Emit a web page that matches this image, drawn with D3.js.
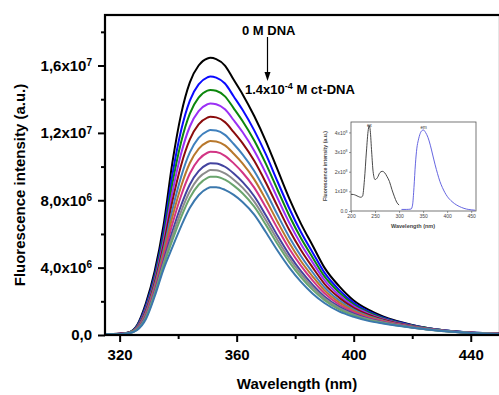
<!DOCTYPE html>
<html>
<head>
<meta charset="utf-8">
<script src="https://cdn.jsdelivr.net/npm/d3@7"></script>
<style>
  body { margin: 0; background: #fff; }
  svg { display: block; font-family: Arial, "Liberation Sans", sans-serif; }
</style>
</head>
<body>
<div id="chart"></div>
<script>
// wavelength grid (nm), shared by all spectra
const wavelength = [315, 320, 323, 326, 329, 332, 335, 338, 341, 344, 347, 350, 351, 353, 356, 359,
  362, 366, 370, 374, 378, 382, 386, 390, 395, 400, 405, 410, 420, 430, 440, 450];

// fluorescence intensity (x10^6 a.u.), from 0 M DNA (top) to 1.4x10^-4 M ct-DNA (bottom)
const spectra = [
  [0.05, 0.08, 0.15, 0.6, 1.9, 3.8, 6.5, 10.2, 13.1, 15.0, 16.0, 16.42, 16.46, 16.38, 16.0, 15.15, 14.3, 13.0, 11.5, 9.8, 8.1, 6.6, 5.3, 4.0, 2.9, 2.05, 1.5, 1.1, 0.6, 0.3, 0.15, 0.08],
  [0.05, 0.08, 0.14, 0.56, 1.76, 3.58, 6.12, 9.48, 12.14, 13.92, 14.88, 15.3, 15.35, 15.28, 14.93, 14.16, 13.37, 12.15, 10.72, 9.1, 7.51, 6.1, 4.89, 3.7, 2.68, 1.91, 1.4, 1.04, 0.58, 0.29, 0.15, 0.08],
  [0.05, 0.07, 0.14, 0.53, 1.66, 3.43, 5.86, 8.96, 11.45, 13.15, 14.09, 14.51, 14.55, 14.5, 14.17, 13.46, 12.71, 11.55, 10.16, 8.61, 7.08, 5.74, 4.59, 3.48, 2.53, 1.81, 1.34, 1.0, 0.56, 0.29, 0.14, 0.08],
  [0.05, 0.07, 0.13, 0.49, 1.57, 3.27, 5.59, 8.44, 10.76, 12.38, 13.29, 13.7, 13.75, 13.7, 13.4, 12.75, 12.05, 10.94, 9.6, 8.11, 6.66, 5.39, 4.3, 3.26, 2.37, 1.71, 1.27, 0.95, 0.54, 0.28, 0.14, 0.07],
  [0.05, 0.07, 0.13, 0.46, 1.47, 3.12, 5.32, 7.93, 10.07, 11.61, 12.5, 12.91, 12.96, 12.92, 12.64, 12.04, 11.39, 10.34, 9.04, 7.62, 6.23, 5.03, 4.0, 3.04, 2.22, 1.61, 1.2, 0.91, 0.52, 0.27, 0.14, 0.07],
  [0.05, 0.06, 0.12, 0.43, 1.37, 2.96, 5.05, 7.41, 9.39, 10.84, 11.7, 12.11, 12.17, 12.14, 11.88, 11.34, 10.73, 9.74, 8.49, 7.12, 5.81, 4.68, 3.71, 2.83, 2.06, 1.51, 1.13, 0.87, 0.51, 0.27, 0.13, 0.07],
  [0.05, 0.06, 0.12, 0.41, 1.29, 2.84, 4.83, 6.99, 8.82, 10.21, 11.05, 11.46, 11.52, 11.49, 11.26, 10.76, 10.19, 9.24, 8.03, 6.71, 5.46, 4.38, 3.47, 2.65, 1.94, 1.43, 1.08, 0.83, 0.49, 0.26, 0.13, 0.07],
  [0.05, 0.06, 0.11, 0.38, 1.21, 2.71, 4.61, 6.57, 8.27, 9.59, 10.41, 10.82, 10.88, 10.86, 10.64, 10.19, 9.65, 8.75, 7.58, 6.32, 5.12, 4.1, 3.23, 2.48, 1.81, 1.35, 1.02, 0.8, 0.48, 0.26, 0.13, 0.07],
  [0.05, 0.06, 0.11, 0.36, 1.13, 2.58, 4.38, 6.13, 7.69, 8.94, 9.73, 10.14, 10.2, 10.19, 9.99, 9.59, 9.09, 8.24, 7.1, 5.89, 4.76, 3.79, 2.98, 2.29, 1.68, 1.26, 0.96, 0.76, 0.46, 0.25, 0.12, 0.06],
  [0.05, 0.05, 0.11, 0.34, 1.08, 2.5, 4.24, 5.86, 7.33, 8.53, 9.32, 9.72, 9.79, 9.78, 9.59, 9.22, 8.75, 7.92, 6.81, 5.63, 4.54, 3.61, 2.83, 2.18, 1.6, 1.21, 0.93, 0.74, 0.45, 0.25, 0.12, 0.06],
  [0.05, 0.05, 0.1, 0.32, 1.03, 2.42, 4.11, 5.61, 6.99, 8.15, 8.92, 9.33, 9.39, 9.4, 9.22, 8.87, 8.42, 7.62, 6.54, 5.39, 4.33, 3.43, 2.68, 2.07, 1.52, 1.16, 0.89, 0.71, 0.44, 0.24, 0.12, 0.06],
  [0.05, 0.05, 0.1, 0.3, 0.95, 2.3, 3.9, 5.2, 6.45, 7.55, 8.3, 8.7, 8.77, 8.78, 8.62, 8.32, 7.9, 7.15, 6.1, 5.0, 4.0, 3.15, 2.45, 1.9, 1.4, 1.08, 0.84, 0.68, 0.43, 0.24, 0.12, 0.06]
];
const curveColors = ["#000000", "#0a0aff", "#0c870c", "#9b30f5", "#8a0c0c", "#3f80bd", "#b8782c",
  "#d23484", "#43439f", "#8c8c8c", "#6aa56e", "#3b78ad"];

// main axes ticks
const xTicks = [320, 360, 400, 440];
const xMinorTicks = [340, 380, 420];
const yTicks = [0, 4, 8, 12, 16];
const yMinorTicks = [2, 6, 10, 14, 18];
const yTickMant = ["0,0", "4,0x10", "8,0x10", "1,2x10", "1,6x10"];
const yTickExp = ["", "6", "6", "7", "7"];

// inset: excitation and emission spectra (x10^8 a.u.)
const exWave = [200, 205, 210, 215, 220, 224, 228, 232, 236, 238, 240, 243, 246, 250, 255, 260, 265, 270, 275, 280, 285, 290, 295, 300];
const exVal = [0.85, 0.84, 0.8, 0.74, 0.7, 0.75, 1.6, 3.0, 4.15, 4.35, 4.1, 3.0, 2.0, 1.6, 1.7, 1.95, 2.02, 1.95, 1.75, 1.5, 1.1, 0.75, 0.45, 0.3];
const emWave = [305, 315, 325, 328, 331, 334, 337, 340, 344, 348, 351, 355, 360, 365, 370, 375, 380, 385, 390, 395, 400, 410, 420, 430, 440, 450, 458];
const emVal = [0.08, 0.08, 0.1, 0.3, 1.2, 2.4, 3.2, 3.6, 3.95, 4.1, 4.12, 4.0, 3.75, 3.35, 2.85, 2.35, 1.9, 1.5, 1.2, 0.95, 0.75, 0.48, 0.3, 0.18, 0.1, 0.06, 0.04];
const insetXTicks = [200, 250, 300, 350, 400, 450];
const insetYTicks = [0, 1, 2, 3, 4];

const W = 499, H = 395;
const plot = { left: 105, top: 15, right: 500, bottom: 335 };

const svg = d3.select("#chart").append("svg").attr("width", W).attr("height", H);

const x = d3.scaleLinear().domain([315, 450]).range([plot.left, plot.right]);
const y = d3.scaleLinear().domain([0, 19]).range([plot.bottom, plot.top]);

svg.append("clipPath").attr("id", "clip")
  .append("rect").attr("x", plot.left).attr("y", plot.top)
  .attr("width", plot.right - plot.left).attr("height", plot.bottom - plot.top);

// spectra
const line = d3.line()
  .x((d) => x(d[0]))
  .y((d) => y(d[1]))
  .curve(d3.curveMonotoneX);

svg.append("g").attr("clip-path", "url(#clip)")
  .selectAll("path")
  .data(spectra)
  .enter()
  .append("path")
  .attr("d", (s) => line(s.map((v, i) => [wavelength[i], v])))
  .attr("fill", "none")
  .attr("stroke", (s, i) => curveColors[i])
  .attr("stroke-width", 2)
  .attr("stroke-linejoin", "round");

// axes
const axisFont = (g) => g.attr("font-family", "Arial, 'Liberation Sans', sans-serif")
  .attr("font-size", 15).attr("font-weight", "bold");

svg.append("g")
  .attr("transform", `translate(0,${plot.bottom})`)
  .call(d3.axisBottom(x).tickValues(xTicks).tickSize(7).tickPadding(7).tickFormat(d3.format("d")))
  .call(axisFont);
svg.append("g")
  .attr("transform", `translate(0,${plot.bottom})`)
  .call(d3.axisBottom(x).tickValues(xMinorTicks).tickSize(4).tickFormat(""));

const yAxis = svg.append("g")
  .attr("transform", `translate(${plot.left},0)`)
  .call(d3.axisLeft(y).tickValues(yTicks).tickSize(7).tickPadding(6))
  .call(axisFont);
svg.append("g")
  .attr("transform", `translate(${plot.left},0)`)
  .call(d3.axisLeft(y).tickValues(yMinorTicks).tickSize(4).tickFormat(""));

yAxis.selectAll(".tick text").each(function (d, i) {
  const t = d3.select(this);
  t.text(yTickMant[i]);
  if (yTickExp[i]) {
    t.append("tspan").attr("dy", "-0.45em").attr("font-size", 10).text(yTickExp[i]);
  }
});

svg.selectAll(".domain").remove();
svg.selectAll(".tick line").attr("stroke", "#000").attr("stroke-width", 2);
svg.selectAll(".tick text").attr("fill", "#000");

// frame
svg.append("rect")
  .attr("x", plot.left).attr("y", plot.top)
  .attr("width", plot.right - plot.left).attr("height", plot.bottom - plot.top)
  .attr("fill", "none").attr("stroke", "#000").attr("stroke-width", 2.2);

// axis titles
svg.append("text")
  .attr("x", 297).attr("y", 389)
  .attr("text-anchor", "middle")
  .attr("font-size", 15).attr("font-weight", "bold")
  .text("Wavelength (nm)");

svg.append("text")
  .attr("transform", "translate(25,185) rotate(-90)")
  .attr("text-anchor", "middle")
  .attr("font-size", 15).attr("font-weight", "bold")
  .text("Fluorescence intensity (a.u.)");

// annotations
svg.append("text")
  .attr("x", 242).attr("y", 35)
  .attr("font-size", 13).attr("font-weight", "bold")
  .text("0 M DNA");

svg.append("line")
  .attr("x1", 267.5).attr("x2", 267.5).attr("y1", 37).attr("y2", 74)
  .attr("stroke", "#000").attr("stroke-width", 1.2);
svg.append("path")
  .attr("d", "M264.5,72 L270.5,72 L267.5,81 Z")
  .attr("fill", "#000");

const conc = svg.append("text")
  .attr("x", 245).attr("y", 94)
  .attr("font-size", 13).attr("font-weight", "bold");
conc.append("tspan").text("1.4x10");
conc.append("tspan").attr("dy", -5).attr("font-size", 9).text("-4");
conc.append("tspan").attr("dy", 5).text(" M ct-DNA");

// inset
const inset = { left: 351, top: 122, right: 476, bottom: 211 };
const ix = d3.scaleLinear().domain([200, 460]).range([inset.left, inset.right]);
const iy = d3.scaleLinear().domain([0, 4.53]).range([inset.bottom, inset.top]);
const ig = svg.append("g");

ig.append("rect")
  .attr("x", inset.left).attr("y", inset.top)
  .attr("width", inset.right - inset.left).attr("height", inset.bottom - inset.top)
  .attr("fill", "#fff").attr("stroke", "#555").attr("stroke-width", 0.8);

const iline = d3.line().x((d) => ix(d[0])).y((d) => iy(d[1])).curve(d3.curveMonotoneX);
ig.append("path")
  .attr("d", iline(exWave.map((w, i) => [w, exVal[i]])))
  .attr("fill", "none").attr("stroke", "#333").attr("stroke-width", 0.9);
ig.append("path")
  .attr("d", iline(emWave.map((w, i) => [w, emVal[i]])))
  .attr("fill", "none").attr("stroke", "#5555dd").attr("stroke-width", 0.9);

ig.append("g")
  .attr("transform", `translate(0,${inset.bottom})`)
  .call(d3.axisBottom(ix).tickValues(insetXTicks).tickSize(2).tickPadding(1.5));
const iyAxis = ig.append("g")
  .attr("transform", `translate(${inset.left},0)`)
  .call(d3.axisLeft(iy).tickValues(insetYTicks).tickSize(2).tickPadding(1.5));
ig.selectAll(".domain").remove();
ig.selectAll(".tick line").attr("stroke", "#555").attr("stroke-width", 0.6);
ig.selectAll(".tick text").attr("font-size", 5).attr("fill", "#444")
  .attr("font-family", "Arial, 'Liberation Sans', sans-serif");
iyAxis.selectAll(".tick text").each(function (d) {
  const t = d3.select(this);
  if (d === 0) return;
  t.text(d + "x10");
  t.append("tspan").attr("dy", "-0.5em").attr("font-size", 3.5).text("8");
});

ig.append("text")
  .attr("x", ix(238)).attr("y", inset.top + 5)
  .attr("text-anchor", "middle").attr("font-size", 4.5).attr("fill", "#333")
  .text("ex");
ig.append("text")
  .attr("x", ix(351)).attr("y", inset.top + 6.5)
  .attr("text-anchor", "middle").attr("font-size", 4.5).attr("fill", "#333")
  .text("em");

ig.append("text")
  .attr("x", 413).attr("y", 228)
  .attr("text-anchor", "middle").attr("font-size", 5.5).attr("font-weight", "bold").attr("fill", "#444")
  .text("Wavelength (nm)");
ig.append("text")
  .attr("transform", "translate(327,166) rotate(-90)")
  .attr("text-anchor", "middle").attr("font-size", 5.2).attr("font-weight", "bold").attr("fill", "#444")
  .text("Fluorescence intensity (a.u.)");
</script>
</body>
</html>
